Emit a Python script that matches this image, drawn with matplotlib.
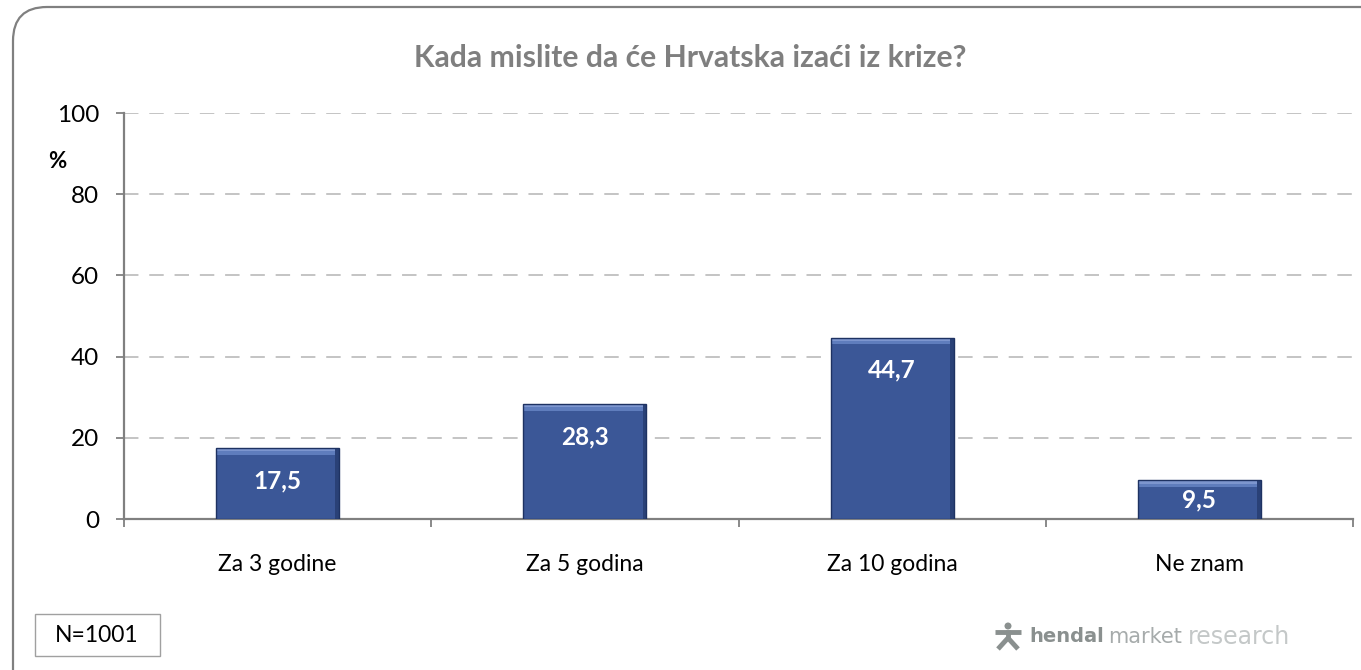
import matplotlib
matplotlib.use("Agg")
import matplotlib.pyplot as plt
from matplotlib.patches import FancyBboxPatch, Rectangle, Circle
from matplotlib.transforms import IdentityTransform
from matplotlib.lines import Line2D
import numpy as np

categories = ["Za 3 godine", "Za 5 godina", "Za 10 godina", "Ne znam"]
values = [17.5, 28.3, 44.7, 9.5]
value_labels = ["17,5", "28,3", "44,7", "9,5"]
yticks = [0, 20, 40, 60, 80, 100]
title = "Kada mislite da će Hrvatska izaći iz krize?"

plt.rcParams['font.family'] = ['Lato', 'DejaVu Sans']

fig = plt.figure(figsize=(13.61, 6.70), dpi=100)
W, H = 1361, 670

# rounded outer frame (pixel coordinates)
frame = FancyBboxPatch((13, -60), 1440, 723,
                       boxstyle="round,pad=0,rounding_size=34",
                       transform=IdentityTransform(), fill=False,
                       edgecolor="#808080", linewidth=1.6)
fig.patches.append(frame)

ax = fig.add_axes([124 / W, 151 / H, (1353 - 124) / W, (519 - 113) / H])
x = np.arange(len(categories))
bw = 0.40
ax.bar(x, values, width=bw, color="#3b5797", edgecolor="none", zorder=3)
# bevel effects
for xi, v in zip(x, values):
    ax.add_patch(Rectangle((xi - bw / 2, v - 1.7), bw, 1.7, facecolor="#5f7dbd",
                           edgecolor="none", zorder=4))
    ax.add_patch(Rectangle((xi - bw / 2, v - 0.8), bw, 0.8, facecolor="#7d96cf",
                           edgecolor="none", zorder=4))
    ax.add_patch(Rectangle((xi + bw / 2 - 0.012, 0), 0.012, v, facecolor="#2a4177",
                           edgecolor="none", zorder=4))
    ax.add_patch(Rectangle((xi - bw / 2, 0), bw, v, facecolor="none",
                           edgecolor="#1e3262", linewidth=1.0, zorder=5))

for xi, v, lab in zip(x, values, value_labels):
    ty = max(v - 8.0, v / 2)
    ax.text(xi, ty, lab, ha="center", va="center", color="white",
            fontsize=17.5, fontweight="bold", zorder=6)

ax.set_xlim(-0.5, len(categories) - 0.5)
ax.set_ylim(0, 100)
ax.set_yticks(yticks)
ax.set_yticklabels([str(t) for t in yticks], fontsize=17.5, color="#000000")
ax.set_xticks(x)
ax.set_xticklabels(categories, fontsize=16.5, color="#000000")
ax.tick_params(axis="x", length=0, pad=25)
ax.set_xticks(np.arange(len(categories) + 1) - 0.5, minor=True)
ax.tick_params(axis="x", which="minor", length=6, color="#808080", width=1.3)
ax.tick_params(axis="y", length=6, color="#808080", width=1.3, pad=12)

ax.grid(axis="y", linestyle=(0, (8, 6)), color="#bfbfbf", linewidth=1.3, zorder=0)
for s in ["top", "right"]:
    ax.spines[s].set_visible(False)
for s in ["left", "bottom"]:
    ax.spines[s].set_color("#808080")
    ax.spines[s].set_linewidth(1.6)
ax.set_axisbelow(True)

fig.text(690 / W, 1 - 58 / H, title, ha="center", va="center", fontsize=21.7,
         fontweight="bold", color="#7f7f7f")
fig.text(57 / W, 1 - 162 / H, "%", ha="center", va="center", fontsize=16,
         fontweight="bold")

# N box
fig.patches.append(Rectangle((35 / W, 1 - 656 / H), 125 / W, 42 / H,
                             transform=fig.transFigure, fill=True,
                             facecolor="white", edgecolor="#a0a0a0", linewidth=1))
fig.text(97 / W, 1 - 636 / H, "N=1001", ha="center", va="center", fontsize=16.5)

# logo
logo_c = "#8a908f"
fig.text(1029 / W, 1 - 637 / H, "hendal", ha="left", va="center", fontsize=14,
         fontweight="bold", color=logo_c, family="DejaVu Sans")
fig.text(1108 / W, 1 - 637 / H, "market", ha="left", va="center",
         fontsize=15, color="#a6abab", family="DejaVu Sans")
fig.text(1188 / W, 1 - 637 / H, "research", ha="left", va="center",
         fontsize=17, color="#c4c8c8", family="DejaVu Sans")
# stick figure icon
cx = 1008
def py(y):
    return H - y
fig.patches.append(Circle((cx, py(626)), 3.5, transform=IdentityTransform(),
                          facecolor=logo_c, edgecolor="none"))
for (x0, y0, x1, y1) in [(995, 632, 1021, 632), (cx, 630, cx, 640),
                         (cx, 638, 998, 649), (cx, 638, 1018, 649)]:
    fig.lines.append(Line2D([x0, x1], [py(y0), py(y1)], transform=IdentityTransform(),
                            color=logo_c, linewidth=3.5, solid_capstyle="butt"))

fig.savefig("out.png", dpi=100)
